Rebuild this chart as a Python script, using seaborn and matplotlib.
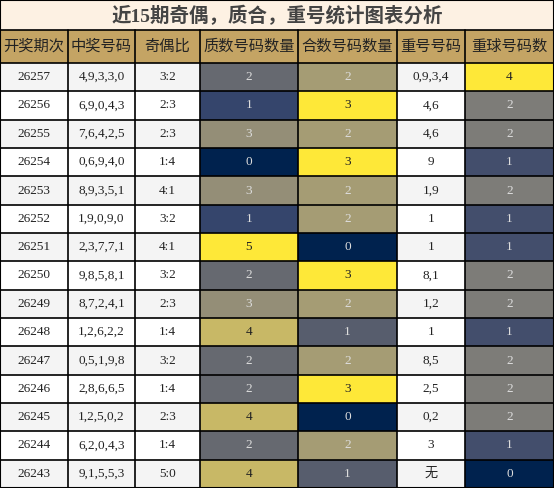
import numpy as np
import matplotlib
matplotlib.use("Agg")
import matplotlib.pyplot as plt
import seaborn as sns
from matplotlib.colors import Normalize

sns.set_theme(style="white")
plt.rcParams["font.family"] = ["Liberation Serif", "Noto Sans CJK SC", "DejaVu Sans"]

# ── Data ─────────────────────────────────────────────────────────────────
title = "近15期奇偶，质合，重号统计图表分析"
headers = ["开奖期次", "中奖号码", "奇偶比", "质数号码数量", "合数号码数量", "重号号码", "重球号码数"]
issues = ["26257", "26256", "26255", "26254", "26253", "26252", "26251", "26250",
          "26249", "26248", "26247", "26246", "26245", "26244", "26243"]
numbers = ["4,9,3,3,0", "6,9,0,4,3", "7,6,4,2,5", "0,6,9,4,0", "8,9,3,5,1",
           "1,9,0,9,0", "2,3,7,7,1", "9,8,5,8,1", "8,7,2,4,1", "1,2,6,2,2",
           "0,5,1,9,8", "2,8,6,6,5", "1,2,5,0,2", "6,2,0,4,3", "9,1,5,5,3"]
odd_even = ["3:2", "2:3", "2:3", "1:4", "4:1", "3:2", "4:1", "3:2",
            "2:3", "1:4", "3:2", "1:4", "2:3", "1:4", "5:0"]
prime_cnt = [2, 1, 3, 0, 3, 1, 5, 2, 3, 4, 2, 2, 4, 2, 4]
comp_cnt = [2, 3, 2, 3, 2, 2, 0, 3, 2, 1, 2, 3, 0, 2, 1]
repeat_nums = ["0,9,3,4", "4,6", "4,6", "9", "1,9", "1", "1", "8,1",
               "1,2", "1", "8,5", "2,5", "0,2", "3", "无"]
repeat_cnt = [4, 2, 2, 1, 2, 1, 1, 2, 2, 1, 2, 2, 2, 1, 0]

# ── Layout (pixels) ──────────────────────────────────────────────────────
W, H = 554, 488
col_edges = np.array([0, 68, 135, 200, 298, 397, 465, 554])
title_h, header_h = 30, 33
n = len(issues)
row_h = (H - title_h - header_h) / n
row_edges = title_h + header_h + np.arange(n + 1) * row_h

fig = plt.figure(figsize=(W / 100, H / 100), dpi=100)
ax = fig.add_axes([0, 0, 1, 1])
ax.set_xlim(0, W)
ax.set_ylim(H, 0)
ax.axis("off")

# title band
ax.add_patch(plt.Rectangle((0, 0), W, title_h, facecolor="#fdf1e3", edgecolor="none"))
ax.text(W / 2, title_h / 2 + 1, title, ha="center", va="center", fontsize=14,
        fontweight="bold", color="#444444")

# header band
ax.add_patch(plt.Rectangle((0, title_h), W, header_h, facecolor="#c4a464", edgecolor="none"))
for j, h in enumerate(headers):
    xc = (col_edges[j] + col_edges[j + 1]) / 2
    ax.text(xc, title_h + header_h / 2, h, ha="center", va="center", fontsize=11,
            color="#222222", family=["Noto Sans CJK SC", "DejaVu Sans"])

# plain cells
text_cols = {0: issues, 1: numbers, 2: odd_even, 5: repeat_nums}
for i in range(n):
    bg = "#f4f4f4" if i % 2 == 0 else "#ffffff"
    y0 = row_edges[i]
    yc = y0 + row_h / 2
    for j, vals in text_cols.items():
        ax.add_patch(plt.Rectangle((col_edges[j], y0), col_edges[j + 1] - col_edges[j], row_h,
                                   facecolor=bg, edgecolor="none"))
        ax.text((col_edges[j] + col_edges[j + 1]) / 2, yc, vals[i], ha="center", va="center",
                fontsize=9.5, color="#222222")

# colour-scaled cells, normalised per column
cmap = plt.get_cmap("cividis")
for j, vals in [(3, prime_cnt), (4, comp_cnt), (6, repeat_cnt)]:
    v = np.array(vals, dtype=float)
    norm = Normalize(v.min(), v.max())
    ax.pcolormesh(col_edges[j:j + 2], row_edges, v.reshape(-1, 1), cmap=cmap, norm=norm)
    for i, val in enumerate(vals):
        tc = "#222222" if norm(val) > 0.7 else "#dddddd"
        ax.text((col_edges[j] + col_edges[j + 1]) / 2, row_edges[i] + row_h / 2, str(val),
                ha="center", va="center", fontsize=9.5, color=tc)

# grid lines
for x in col_edges:
    ax.plot([x, x], [title_h, H], color="black", lw=1.2)
for y in np.concatenate([[title_h], row_edges]):
    ax.plot([0, W], [y, y], color="black", lw=1.2)
ax.plot([0, W, W, 0, 0], [0, 0, H, H, 0], color="black", lw=1.5)

fig.savefig("out.png", dpi=100)
